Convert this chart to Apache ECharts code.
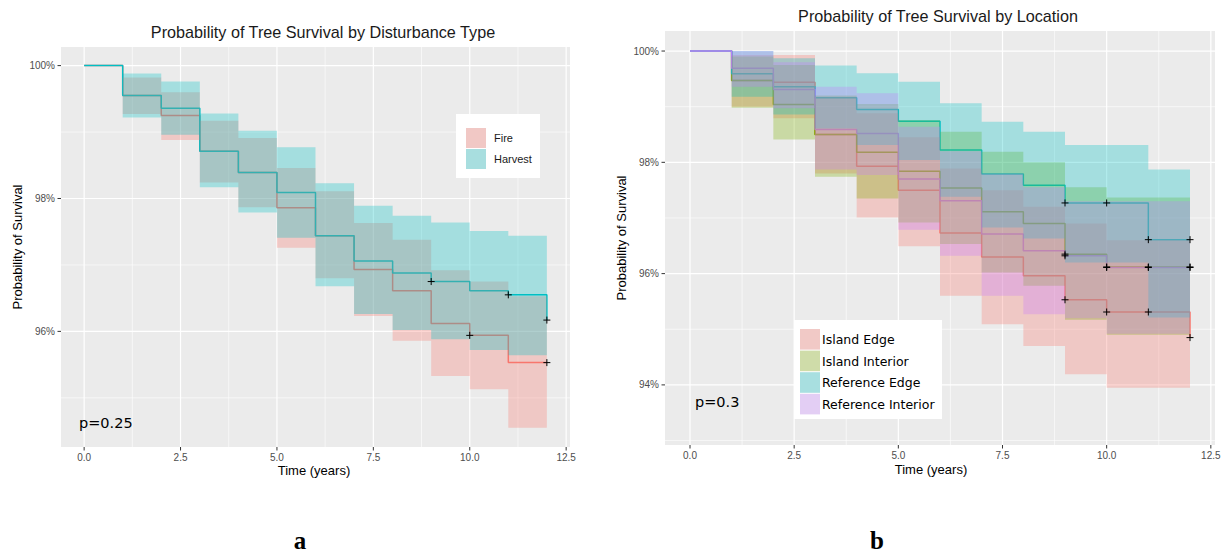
<!DOCTYPE html>
<html>
<head>
<meta charset="utf-8">
<script src="https://cdn.jsdelivr.net/npm/echarts@6/dist/echarts.min.js"></script>
<style>
  html, body { margin: 0; padding: 0; background: #ffffff; }
  #chart { width: 1227px; height: 556px; }
</style>
</head>
<body>
<div id="chart"></div>
<script>
// ---- shared time axis ----
const years = [0, 1, 2, 3, 4, 5, 6, 7, 8, 9, 10, 11, 12];
// each confidence band step spans [t, t + 1]
const bandStarts = [1, 2, 3, 4, 5, 6, 7, 8, 9, 10, 11];
const xTicks = [0, 2.5, 5, 7.5, 10, 12.5];
const xMinor = [1.25, 3.75, 6.25, 8.75, 11.25];

// ---- (a) survival by disturbance type ----
const fireSurv    = [100, 99.55, 99.25, 98.71, 98.39, 97.86, 97.44, 96.93, 96.61, 96.12, 95.94, 95.53, 95.53];
const fireLower   = [99.27, 98.88, 98.24, 97.87, 97.26, 96.80, 96.23, 95.86, 95.33, 95.13, 94.55];
const fireUpper   = [99.82, 99.60, 99.17, 98.91, 98.46, 98.11, 97.63, 97.38, 96.92, 96.75, 96.53];
const fireCensor  = [10, 12];

const harvestSurv   = [100, 99.55, 99.36, 98.71, 98.39, 98.09, 97.44, 97.06, 96.88, 96.75, 96.61, 96.55, 96.17];
const harvestLower  = [99.22, 98.96, 98.17, 97.79, 97.41, 96.68, 96.26, 96.02, 95.88, 95.72, 95.64];
const harvestUpper  = [99.88, 99.76, 99.28, 99.02, 98.77, 98.23, 97.89, 97.74, 97.64, 97.51, 97.44];
const harvestCensor = [9, 11, 12];

const yTicksA = [96, 98, 100];
const yMinorA = [95, 97, 99];

// ---- (b) survival by location ----
const islandEdgeSurv    = [100, 99.47, 99.44, 98.50, 97.93, 97.50, 96.73, 96.30, 95.96, 95.53, 95.31, 95.31, 94.85];
const islandEdgeLower   = [99.00, 98.79, 97.80, 97.01, 96.49, 95.60, 95.09, 94.70, 94.19, 93.95, 93.95];
const islandEdgeUpper   = [99.93, 99.93, 99.18, 98.88, 98.45, 97.89, 97.50, 97.20, 96.90, 96.60, 96.60];
const islandEdgeCensor  = [9, 10, 11, 12];

const islandInteriorSurv   = [100, 99.47, 99.04, 98.50, 98.18, 97.84, 97.54, 97.11, 96.90, 96.35, 96.12, 96.12, 96.12];
const islandInteriorLower  = [98.98, 98.41, 97.74, 97.35, 96.92, 96.53, 96.02, 95.78, 95.17, 94.90, 94.90];
const islandInteriorUpper  = [99.90, 99.75, 99.20, 99.05, 98.76, 98.55, 98.19, 98.00, 97.55, 97.37, 97.37];
const islandInteriorCensor = [9, 10, 11, 12];

const refEdgeSurv   = [100, 99.59, 99.36, 99.16, 98.95, 98.74, 98.22, 97.79, 97.59, 97.27, 97.27, 96.61, 96.61];
const refEdgeLower  = [99.18, 98.86, 98.61, 98.31, 98.04, 97.38, 96.83, 96.63, 96.20, 96.20, 95.21];
const refEdgeUpper  = [100.0, 99.87, 99.74, 99.60, 99.45, 99.06, 98.73, 98.55, 98.31, 98.31, 97.87];
const refEdgeCensor = [9, 10, 11, 12];

const refInteriorSurv   = [100, 99.69, 99.31, 98.59, 98.52, 97.70, 97.31, 96.71, 96.41, 96.32, 96.11, 96.11, 96.11];
const refInteriorLower  = [99.36, 98.97, 97.87, 97.77, 96.79, 96.32, 95.60, 95.27, 95.20, 94.92, 94.92];
const refInteriorUpper  = [100.0, 99.80, 99.36, 99.24, 98.64, 98.20, 97.80, 97.55, 97.30, 97.30, 97.30];
const refInteriorCensor = [9, 10, 11, 12];

const yTicksB = [94, 96, 98, 100];
const yMinorB = [93, 95, 97, 99];

// ---- styling ----
const RED = '#F8766D', GREEN = '#7CAE00', CYAN = '#00BFC4', PURPLE = '#C77CFF';
const X_RANGE = [-0.6, 12.6];
const Y_RANGE_A = [94.26, 100.28];
const Y_RANGE_B = [92.92, 100.36];
const SANS = '"Liberation Sans", Arial, sans-serif';
const DEJAVU = '"DejaVu Sans", Verdana, sans-serif';

function rgba(hex, a) {
  const n = parseInt(hex.slice(1), 16);
  return `rgba(${(n >> 16) & 255},${(n >> 8) & 255},${n & 255},${a})`;
}

// white grid lines across a panel
function gridLineSeries(gi, values, dir, width, yRange) {
  return {
    type: 'custom', xAxisIndex: gi, yAxisIndex: gi, silent: true, z: 1,
    animation: false,
    data: values.map(v => [v]),
    renderItem(params, api) {
      const cs = params.coordSys;
      const v = api.value(0);
      let shape;
      if (dir === 'x') {
        const x = api.coord([v, yRange[0]])[0];
        shape = { x1: x, y1: cs.y, x2: x, y2: cs.y + cs.height };
      } else {
        const y = api.coord([X_RANGE[0], v])[1];
        shape = { x1: cs.x, y1: y, x2: cs.x + cs.width, y2: y };
      }
      return { type: 'line', shape, style: { stroke: '#ffffff', lineWidth: width } };
    }
  };
}

// tick marks + tick labels
function tickLabelSeries(gi, values, dir, yRange, fmt) {
  return {
    type: 'custom', xAxisIndex: gi, yAxisIndex: gi, silent: true, z: 5,
    animation: false, clip: false,
    data: values.map(v => [v]),
    renderItem(params, api) {
      const cs = params.coordSys;
      const v = api.value(0);
      if (dir === 'x') {
        const x = api.coord([v, yRange[0]])[0];
        const yb = cs.y + cs.height;
        return { type: 'group', children: [
          { type: 'line', shape: { x1: x, y1: yb, x2: x, y2: yb + 3.5 }, style: { stroke: '#333333', lineWidth: 1 } },
          { type: 'text', x: x, y: yb + 10,
            style: { text: fmt(v), fill: '#4D4D4D', font: `10px ${SANS}`, align: 'center', verticalAlign: 'middle', textAlign: 'center', textVerticalAlign: 'middle' } }
        ] };
      }
      const y = api.coord([X_RANGE[0], v])[1];
      return { type: 'group', children: [
        { type: 'line', shape: { x1: cs.x - 3.5, y1: y, x2: cs.x, y2: y }, style: { stroke: '#333333', lineWidth: 1 } },
        { type: 'text', x: cs.x - 6, y: y,
          style: { text: fmt(v), fill: '#4D4D4D', font: `10px ${SANS}`, align: 'right', verticalAlign: 'middle', textAlign: 'right', textVerticalAlign: 'middle' } }
      ] };
    }
  };
}

// step confidence bands, one polygon per group
function bandSeries(gi, groups, alpha) {
  return {
    type: 'custom', xAxisIndex: gi, yAxisIndex: gi, silent: true, z: 3,
    animation: false,
    data: groups.map((g, i) => [i]),
    renderItem(params, api) {
      const g = groups[api.value(0)];
      const top = [], bot = [];
      bandStarts.forEach((t, k) => {
        top.push(api.coord([t, g.upper[k]]), api.coord([t + 1, g.upper[k]]));
        bot.push(api.coord([t, g.lower[k]]), api.coord([t + 1, g.lower[k]]));
      });
      return { type: 'polygon', shape: { points: top.concat(bot.reverse()) },
               style: { fill: rgba(g.color, alpha) } };
    }
  };
}

function stepLine(gi, surv, color, width, z) {
  return {
    type: 'line', xAxisIndex: gi, yAxisIndex: gi, step: 'end', z: z,
    silent: true, animation: false, showSymbol: false, symbol: 'none',
    data: years.map((t, i) => [t, surv[i]]),
    lineStyle: { color, width }
  };
}

// "+" censoring marks
function censorSeries(gi, times, surv) {
  return {
    type: 'custom', xAxisIndex: gi, yAxisIndex: gi, silent: true, z: 4,
    animation: false,
    data: times.map(t => [t, surv[years.indexOf(t)]]),
    renderItem(params, api) {
      const p = api.coord([api.value(0), api.value(1)]);
      const s = 3.5;
      return { type: 'group', children: [
        { type: 'line', shape: { x1: p[0] - s, y1: p[1], x2: p[0] + s, y2: p[1] }, style: { stroke: '#000000', lineWidth: 1 } },
        { type: 'line', shape: { x1: p[0], y1: p[1] - s, x2: p[0], y2: p[1] + s }, style: { stroke: '#000000', lineWidth: 1 } }
      ] };
    }
  };
}

const fmtX = v => v.toFixed(1);
const fmtY = v => v + '%';

const series = [
  // panel a
  gridLineSeries(0, xMinor, 'x', 0.6, Y_RANGE_A),
  gridLineSeries(0, yMinorA, 'y', 0.6, Y_RANGE_A),
  gridLineSeries(0, xTicks, 'x', 1.2, Y_RANGE_A),
  gridLineSeries(0, yTicksA, 'y', 1.2, Y_RANGE_A),
  stepLine(0, fireSurv, RED, 1.5, 2),
  stepLine(0, harvestSurv, CYAN, 1.5, 2.1),
  bandSeries(0, [
    { lower: fireLower, upper: fireUpper, color: RED },
    { lower: harvestLower, upper: harvestUpper, color: CYAN }
  ], 0.3),
  censorSeries(0, fireCensor, fireSurv),
  censorSeries(0, harvestCensor, harvestSurv),
  tickLabelSeries(0, xTicks, 'x', Y_RANGE_A, fmtX),
  tickLabelSeries(0, yTicksA, 'y', Y_RANGE_A, fmtY),

  // panel b
  gridLineSeries(1, xMinor, 'x', 0.6, Y_RANGE_B),
  gridLineSeries(1, yMinorB, 'y', 0.6, Y_RANGE_B),
  gridLineSeries(1, xTicks, 'x', 1.2, Y_RANGE_B),
  gridLineSeries(1, yTicksB, 'y', 1.2, Y_RANGE_B),
  stepLine(1, islandEdgeSurv, RED, 1.5, 2),
  stepLine(1, islandInteriorSurv, GREEN, 1.5, 2.1),
  stepLine(1, refEdgeSurv, CYAN, 1.5, 2.2),
  stepLine(1, refInteriorSurv, PURPLE, 1.5, 2.3),
  bandSeries(1, [
    { lower: islandEdgeLower, upper: islandEdgeUpper, color: RED },
    { lower: islandInteriorLower, upper: islandInteriorUpper, color: GREEN },
    { lower: refEdgeLower, upper: refEdgeUpper, color: CYAN },
    { lower: refInteriorLower, upper: refInteriorUpper, color: PURPLE }
  ], 0.3),
  censorSeries(1, islandEdgeCensor, islandEdgeSurv),
  censorSeries(1, islandInteriorCensor, islandInteriorSurv),
  censorSeries(1, refEdgeCensor, refEdgeSurv),
  censorSeries(1, refInteriorCensor, refInteriorSurv),
  tickLabelSeries(1, xTicks, 'x', Y_RANGE_B, fmtX),
  tickLabelSeries(1, yTicksB, 'y', Y_RANGE_B, fmtY)
];

function txt(x, y, text, font, extra) {
  return Object.assign({ type: 'text', x, y, z: 100, silent: true,
    style: Object.assign({ text, font, fill: '#000000', align: 'center', verticalAlign: 'middle',
                           textAlign: 'center', textVerticalAlign: 'middle' }, (extra && extra.style) || {}) },
    extra && extra.rotation !== undefined ? { rotation: extra.rotation } : {});
}
function box(x, y, w, h, fill) {
  return { type: 'rect', z: 90, silent: true, shape: { x, y, width: w, height: h }, style: { fill } };
}

const legendA = ['Fire', 'Harvest'];
const legendAColors = ['#F1C8C5', '#A8DEDF'];
const legendB = ['Island Edge', 'Island Interior', 'Reference Edge', 'Reference Interior'];
const legendBColors = ['#F1C9C6', '#CFDCA9', '#A8DFE0', '#E3CEF4'];

const graphics = [
  // titles
  txt(323, 32, 'Probability of Tree Survival by Disturbance Type', `16.2px ${SANS}`, { style: { fill: '#1a1a1a' } }),
  txt(938, 16, 'Probability of Tree Survival by Location', `16.2px ${SANS}`, { style: { fill: '#1a1a1a' } }),
  // axis titles
  txt(314, 470, 'Time (years)', `13px ${SANS}`),
  txt(931, 469, 'Time (years)', `13px ${SANS}`),
  txt(17, 247, 'Probability of Survival', `13px ${SANS}`, { rotation: Math.PI / 2 }),
  txt(621, 238, 'Probability of Survival', `13px ${SANS}`, { rotation: Math.PI / 2 }),
  // p-values
  txt(79, 423, 'p=0.25', `14.5px ${DEJAVU}`, { style: { align: 'left', textAlign: 'left' } }),
  txt(695, 402, 'p=0.3', `14.5px ${DEJAVU}`, { style: { align: 'left', textAlign: 'left' } }),
  // legend a
  box(456, 114, 84, 64, '#ffffff'),
  // legend b
  box(794, 320, 148, 99, '#ffffff'),
  // panel letters
  txt(300, 540, 'a', `bold 25px "Liberation Serif", "Times New Roman", serif`),
  txt(877, 540, 'b', `bold 25px "Liberation Serif", "Times New Roman", serif`)
];
legendA.forEach((name, i) => {
  graphics.push(box(466, 128 + i * 21, 20, 20, legendAColors[i]));
  graphics.push(txt(494, 138 + i * 21, name, `11px ${SANS}`, { style: { align: 'left', textAlign: 'left', fill: '#1a1a1a' } }));
});
legendB.forEach((name, i) => {
  graphics.push(box(800, 329 + i * 21.6, 20, 20.6, legendBColors[i]));
  graphics.push(txt(822, 339.5 + i * 21.6, name, `12.5px ${DEJAVU}`, { style: { align: 'left', textAlign: 'left' } }));
});

const chart = echarts.init(document.getElementById('chart'), null, { renderer: 'svg' });
chart.setOption({
  animation: false,
  backgroundColor: '#ffffff',
  grid: [
    { left: 61, top: 47, width: 509, height: 400, show: true, backgroundColor: '#EBEBEB', borderWidth: 0 },
    { left: 665, top: 31, width: 550, height: 414, show: true, backgroundColor: '#EBEBEB', borderWidth: 0 }
  ],
  xAxis: [
    { gridIndex: 0, type: 'value', min: X_RANGE[0], max: X_RANGE[1], show: false },
    { gridIndex: 1, type: 'value', min: X_RANGE[0], max: X_RANGE[1], show: false }
  ],
  yAxis: [
    { gridIndex: 0, type: 'value', min: Y_RANGE_A[0], max: Y_RANGE_A[1], show: false },
    { gridIndex: 1, type: 'value', min: Y_RANGE_B[0], max: Y_RANGE_B[1], show: false }
  ],
  graphic: { elements: graphics },
  series
});
</script>
</body>
</html>
